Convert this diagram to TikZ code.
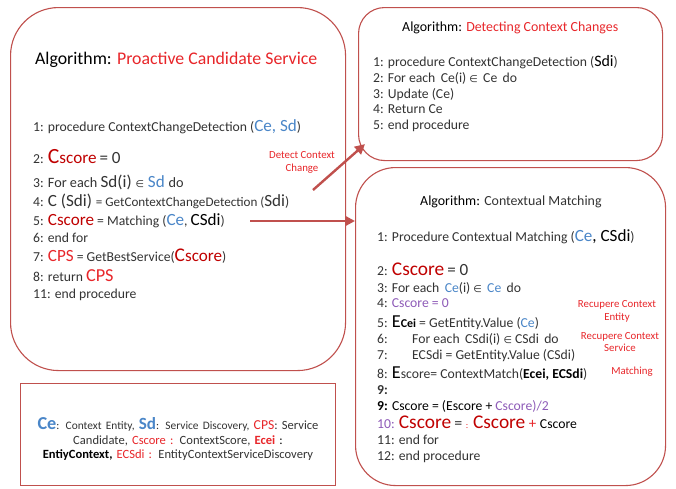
\documentclass[tikz,border=0pt]{standalone}
\usepackage{fontspec}
\setmainfont{Carlito}
\newfontfamily\symf{DejaVu Sans}
\usetikzlibrary{arrows.meta,calc}
\definecolor{bord}{HTML}{C0504D}
\definecolor{tred}{HTML}{E8262A}
\definecolor{dred}{HTML}{C00000}
\definecolor{tblue}{HTML}{4A86C8}
\definecolor{tpurp}{HTML}{8E5BB8}
\definecolor{tgray}{HTML}{333333}
\newcommand\fs[1]{\fontsize{\the\dimexpr #1pt*114/100\relax}{\the\dimexpr #1pt*135/100\relax}\selectfont}
\newcommand\elem{{\symf\fs{8.5}∈}}
\begin{document}
\begin{tikzpicture}[x=1pt,y=-1pt,
  rbox/.style={draw=bord, line width=1.1pt, fill=white, anchor=north west, inner sep=0pt},
  txt/.style={anchor=base west, inner sep=0pt, text=tgray, font=\fs{12}},
  note/.style={inner sep=0pt, text=tred, font=\fs{9.5}, align=center},
  conn/.style={draw=bord, line width=2.4pt, -{Triangle[length=10pt,width=10pt]}}
]
\useasboundingbox (0,0) rectangle (676,488);
% boxes
\node[rbox, rounded corners=48pt, minimum width=335pt, minimum height=363pt] (L) at (10,7) {};
\node[rbox, rounded corners=26pt, minimum width=304pt, minimum height=153pt] (T) at (358,7) {};
\node[rbox, rounded corners=40pt, minimum width=310pt, minimum height=318pt] (M) at (355,167) {};
\node[rbox, line width=0.8pt, minimum width=315pt, minimum height=102pt] (G) at (20,383) {};

% left box
\node[txt, font=\fs{15.6}, text=black] (lt) at (35,64) {Algorithm: \textcolor{tred}{Proactive Candidate Service}};
\node[txt] (l1) at (33,131) {1: procedure ContextChangeDetection (\textcolor{tblue}{\fs{15}Ce, Sd})};
\node[txt] (l2) at (33,163) {2: \textcolor{dred}{\fs{19}C\fs{15}score} \fs{15}= 0};
\node[txt] (l3) at (33,187) {3: \fs{12.5}For each \fs{15}Sd(i) \elem\ \textcolor{tblue}{\fs{15}Sd} \fs{12.5}do};
\node[txt] (l4) at (33,206) {4: \fs{15}C (Sdi) \fs{11.5}= GetContextChangeDetection (\fs{15}Sdi\fs{12})};
\node[txt] (l5) at (33,225) {5: \textcolor{dred}{\fs{15}Cscore} = Matching (\textcolor{tblue}{\fs{15}Ce}, \fs{15}\textcolor{black}{CSdi}\fs{12})};
\node[txt] (l6) at (33,242) {6: end for};
\node[txt] (l7) at (33,261) {7: \textcolor{tred}{\fs{15}CPS} = GetBestService(\textcolor{dred}{\fs{17}C\fs{15}score})};
\node[txt] (l8) at (33,281) {8: return \textcolor{tred}{\fs{16}CPS}};
\node[txt] (l9) at (33,298) {11: end procedure};

% top right box
\node[txt, font=\fs{12.2}, text=black] (tt) at (402,31) {Algorithm: \textcolor{tred}{Detecting Context Changes}};
\node[txt] (t1) at (373,66) {1: procedure ContextChangeDetection (\fs{14}\textcolor{black}{Sdi}\fs{12})};
\node[txt] (t2) at (373,82) {2: For each\, Ce(i) \elem\ \,Ce\, do};
\node[txt] (t3) at (373,98) {3: Update (Ce)};
\node[txt] (t4) at (373,113) {4: Return Ce};
\node[txt] (t5) at (373,129) {5: end procedure};

% bottom right box
\node[txt, font=\fs{12.2}, text=black] (mt) at (420,205) {Algorithm: \textcolor{tgray}{Contextual Matching}};
\node[txt] (m1) at (377,241) {1: Procedure Contextual Matching (\textcolor{tblue}{\fs{15}Ce}\fs{15}\textcolor{black}{, CSdi}\fs{12})};
\node[txt] (m2) at (377,275) {2: \textcolor{dred}{\fs{17}Cscore} \fs{15}= 0};
\node[txt] (m3) at (377,292) {3: For each\, \textcolor{tblue}{Ce}(i) \elem\ \,\textcolor{tblue}{Ce}\, do};
\node[txt] (m4) at (377,307) {4: \textcolor{tpurp}{Cscore = 0}};
\node[txt] (m5) at (377,327) {5: \textcolor{black}{\fs{16}E\fs{10.5}\bfseries Cei} = GetEntity.Value (\textcolor{tblue}{Ce})};
\node[txt] (m6) at (377,343) {6:};
\node[txt] (m6b) at (412,343) {For each\, CSdi(i) \elem\ CSdi\, do};
\node[txt] (m7) at (377,359) {7:};
\node[txt] (m7b) at (412,359) {ECSdi = GetEntity.Value (CSdi)};
\node[txt] (m8) at (377,378) {8: \textcolor{black}{\fs{16}E}score= ContextMatch(\textcolor{black}{\bfseries Ecei, ECSdi})};
\node[txt, font=\fs{12}\bfseries] (m9) at (377,394) {9:};
\node[txt] (m9b) at (377,410) {\textcolor{black}{\bfseries 9:} \textcolor{black}{Cscore = (Escore +} \textcolor{tpurp}{Cscore)/2}};
\node[txt] (m10) at (377,428) {\textcolor{tpurp}{10:} \textcolor{dred}{\fs{17}Cscore} \fs{14}= \textcolor{tred}{\fs{8}:} \textcolor{dred}{\fs{17}Cscore} \textcolor{tred}{\fs{13}+} \textcolor{black}{\fs{12}Cscore}};
\node[txt] (m11) at (377,444) {11: end for};
\node[txt] (m12) at (377,460) {12: end procedure};

% side notes
\node[note] (n1) at (617,311) {Recupere Context\\Entity};
\node[note] (n2) at (620,342) {Recupere Context\\Service};
\node[note] (n3) at (632,372) {Matching};
\node[note] (n4) at (302,162) {Detect Context\\Change};

% legend
\node[inner sep=0pt, align=center, text=tgray, font=\fs{11}, text width=310pt] (lg) at (178,439)
 {\textcolor{tblue}{\fs{16}\bfseries Ce}\fs{10}: Context Entity, \textcolor{tblue}{\fs{15}\bfseries Sd}\fs{10}: Service Discovery, \textcolor{tred}{\fs{12}CPS}\fs{11}: Service\\[0pt]
  Candidate, \textcolor{tred}{Cscore :} ContextScore, \textcolor{tred}{\bfseries Ecei} \textcolor{black}{:}\\[0pt]
  \textcolor{black}{\bfseries EntiyContext,} \textcolor{tred}{ECSdi :} EntityContextServiceDiscovery};

% connectors
\coordinate (a1) at (313,190);
\coordinate (a2) at (250,221);
\draw[conn] (a1) -- ($(T.south west)+(7,-17)$);
\draw[conn] (a2) -- (a2 -| M.west);
\end{tikzpicture}
\end{document}
